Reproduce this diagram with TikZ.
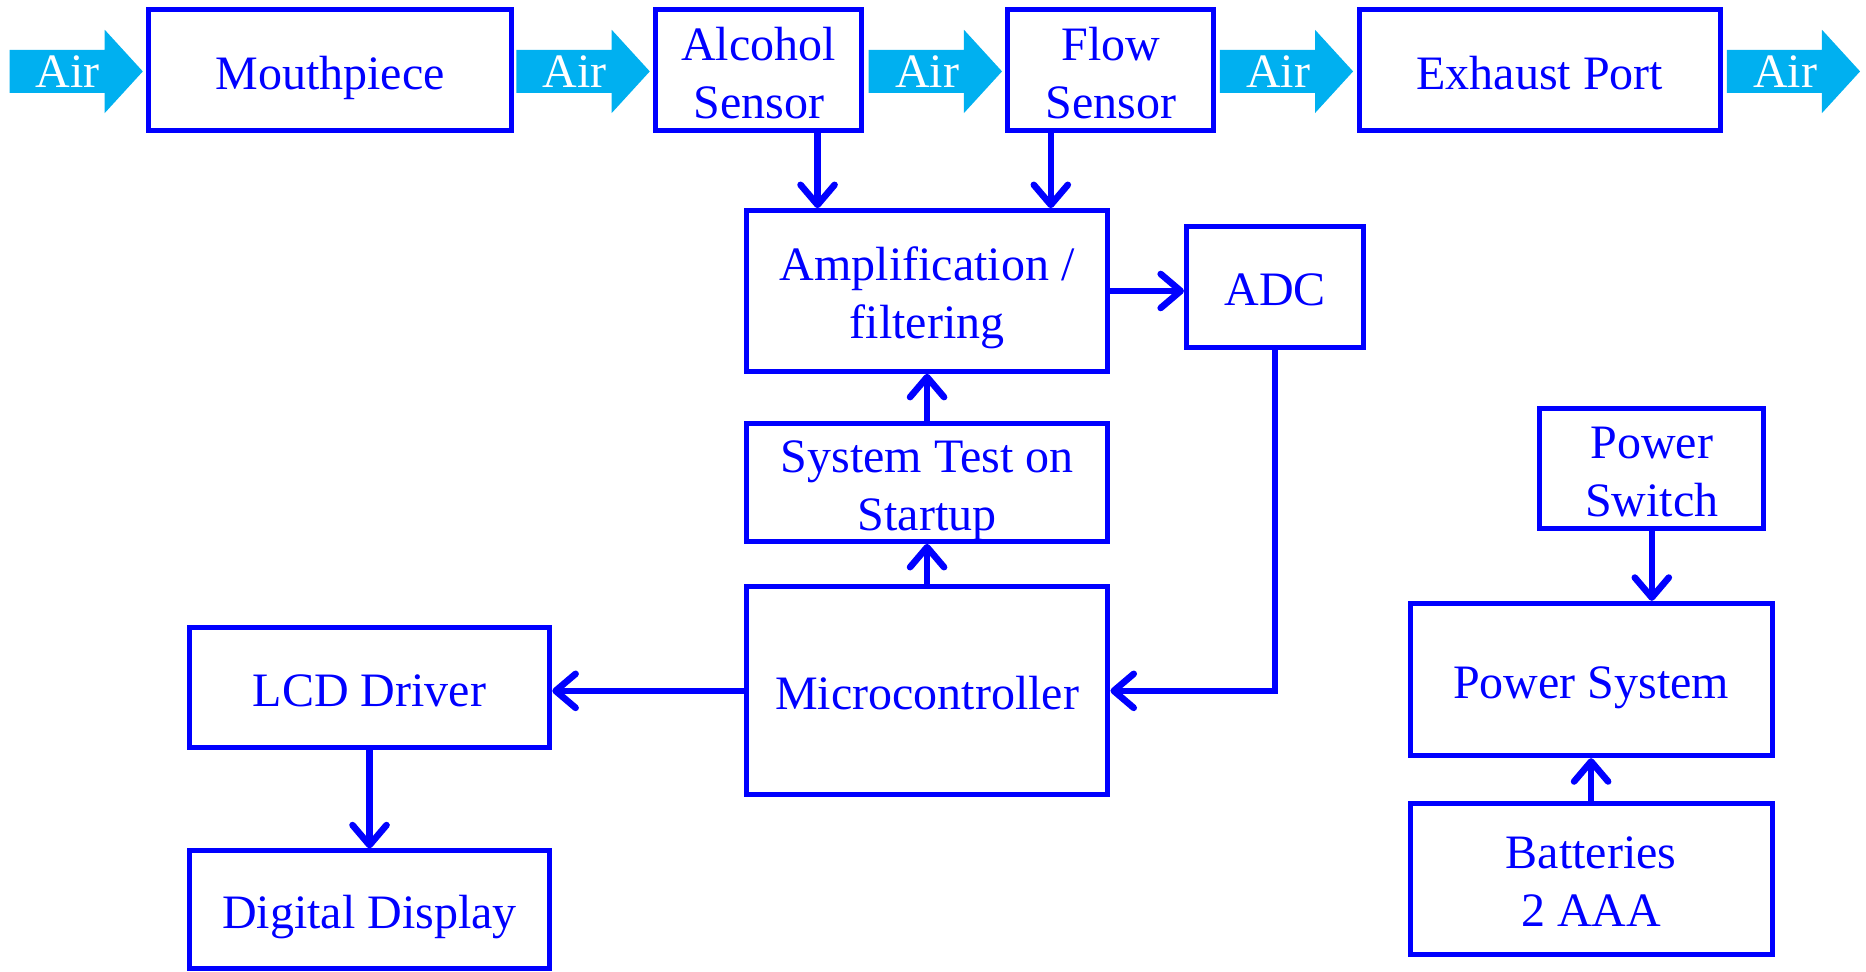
\documentclass[tikz,border=0pt]{standalone}
\usepackage{fontspec}
\setmainfont{Liberation Serif}
\usetikzlibrary{arrows.meta}
\definecolor{boxblue}{RGB}{0,0,255}
\definecolor{airblue}{RGB}{0,176,240}
\newlength\un \setlength\un{0.595pt}
\newcommand\toprl{\rule{0pt}{24.3pt}}
\newcommand\botrl{\rule[-5.5pt]{0pt}{5.5pt}}
\newcommand\airarrow[2]{%
 \fill[airblue] (#1,42) -- ({#1+80},42) -- ({#1+80},25) -- ({#1+112},60) -- ({#1+80},95) -- ({#1+80},78) -- (#1,78) -- cycle;
 \node[airtxt] (#2) at ({#1+49},60.5) {Air};}
\begin{document}
\begin{tikzpicture}[x=0.595pt,y=-0.595pt,
 box/.style={draw=boxblue, line width=2.5pt, text=boxblue, align=center, inner sep=0pt, font=\fontsize{24}{29}\selectfont},
 airtxt/.style={text=white, inner sep=0pt, font=\fontsize{24}{29}\selectfont},
 conn/.style={draw=boxblue, line width=3.3pt, -{Straight Barb[length=10pt,width=17pt,line cap=round,line join=round]}}]
\useasboundingbox (0,0) rectangle (1568,816);
% air flow
\airarrow{8}{air1}
\airarrow{434}{air2}
\airarrow{730}{air3}
\airarrow{1025}{air4}
\airarrow{1451}{air5}
% boxes
\node[box, minimum width=305\un, minimum height=102\un] (mouth) at (277.5,59) {\toprl Mouthpiece\botrl};
\node[box, minimum width=173\un, minimum height=102\un] (alc) at (637.5,59) {\toprl Alcohol\\Sensor\botrl};
\node[box, minimum width=173\un, minimum height=102\un] (flow) at (933.5,59) {\toprl Flow\\Sensor\botrl};
\node[box, minimum width=304\un, minimum height=102\un] (exh) at (1294,59) {\toprl Exhaust Port\botrl};
\node[box, minimum width=304\un, minimum height=135\un] (amp) at (779,244.5) {\toprl Amplification /\\filtering\botrl};
\node[box, minimum width=149\un, minimum height=102\un] (adc) at (1071.5,241) {\toprl ADC\botrl};
\node[box, minimum width=304\un, minimum height=95\un] (sys) at (779,405.5) {\toprl System Test on\\Startup\botrl};
\node[box, minimum width=304\un, minimum height=175\un] (micro) at (779,580.5) {\toprl Microcontroller\botrl};
\node[box, minimum width=303\un, minimum height=101\un] (lcd) at (310.5,577.5) {\toprl LCD Driver\botrl};
\node[box, minimum width=303\un, minimum height=99\un] (disp) at (310.5,764.5) {\toprl Digital Display\botrl};
\node[box, minimum width=188\un, minimum height=101\un] (psw) at (1388,393.5) {\toprl Power\\Switch\botrl};
\node[box, minimum width=304\un, minimum height=128\un] (psys) at (1337,571) {\toprl Power System\botrl};
\node[box, minimum width=304\un, minimum height=127\un] (bat) at (1337,738.5) {\toprl Batteries\\2 AAA\botrl};
% connectors
\coordinate (alcout) at ([xshift=49.5\un]alc.south);
\coordinate (flowout) at ([xshift=-50.5\un]flow.south);
\draw[conn] (alcout) -- (alcout |- amp.north);
\draw[conn] (flowout) -- (flowout |- amp.north);
\draw[conn] (amp.east) -- (amp.east -| adc.west);
\draw[conn] (adc.south) |- (micro.east);
\draw[conn] (sys.north) -- (amp.south);
\draw[conn] (micro.north) -- (sys.south);
\draw[conn] (micro.west) -- (micro.west -| lcd.east);
\draw[conn] (lcd.south) -- (disp.north);
\draw[conn] (psw.south) -- (psw.south |- psys.north);
\draw[conn] (bat.north) -- (psys.south);
\end{tikzpicture}
\end{document}
